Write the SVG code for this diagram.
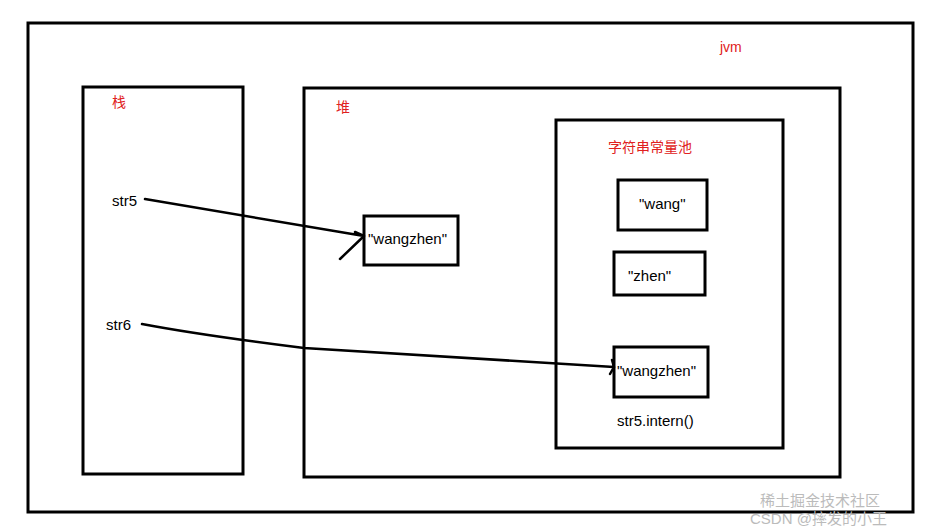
<svg xmlns="http://www.w3.org/2000/svg" width="937" height="532" viewBox="0 0 937 532">
<style>
.b{fill:none;stroke:#000;stroke-width:3}
.t{font-family:"Microsoft YaHei","Liberation Sans","Noto Sans CJK SC",sans-serif;font-size:15px;fill:#000}
.r{font-family:"Liberation Sans","Noto Sans CJK SC",sans-serif;font-size:14px;fill:#e02020}
.c{fill:none;stroke:#000;stroke-width:2.5;stroke-linecap:round}
.w{font-family:"Liberation Sans","Noto Sans CJK SC",sans-serif;font-size:15px;fill:#bbb}
</style>
<rect width="937" height="532" fill="#fff"/>
<g id="jvm"><rect class="b" x="28" y="23" width="885" height="489"/><text class="r" x="720" y="52">jvm</text></g>
<g id="stack"><rect class="b" x="83" y="87" width="160" height="387"/><text class="r" x="112" y="107">栈</text>
<text class="t" x="112" y="206">str5</text><text class="t" x="106" y="330">str6</text></g>
<g id="heap"><rect class="b" x="304" y="88" width="536" height="389"/><text class="r" x="336" y="112">堆</text></g>
<g id="heapStr"><rect class="b" x="364" y="216" width="94" height="49"/><text class="t" x="368" y="244">"wangzhen"</text></g>
<g id="pool"><rect class="b" x="556" y="120" width="227" height="328"/><text class="r" x="608" y="152">字符串常量池</text>
<text class="t" x="617" y="426">str5.intern()</text></g>
<g id="wang"><rect class="b" x="618" y="180" width="89" height="50"/><text class="t" x="639" y="209">"wang"</text></g>
<g id="zhen"><rect class="b" x="614" y="252" width="91" height="43"/><text class="t" x="628" y="281">"zhen"</text></g>
<g id="poolStr"><rect class="b" x="614" y="347" width="94" height="50"/><text class="t" x="617" y="376">"wangzhen"</text></g>
<g id="connectors">
<path class="c" d="M145 199 L364 236 M364 236 L340 259 M364 236 L355 232"/>
<path class="c" d="M142 324 Q200 335 304 348 L614 367 M614 367 L612 360 M614 367 L610 374"/>
</g>
<text class="w" x="760" y="506">稀土掘金技术社区</text>
<text class="w" x="750" y="524">CSDN @摔发的小王</text>
</svg>
